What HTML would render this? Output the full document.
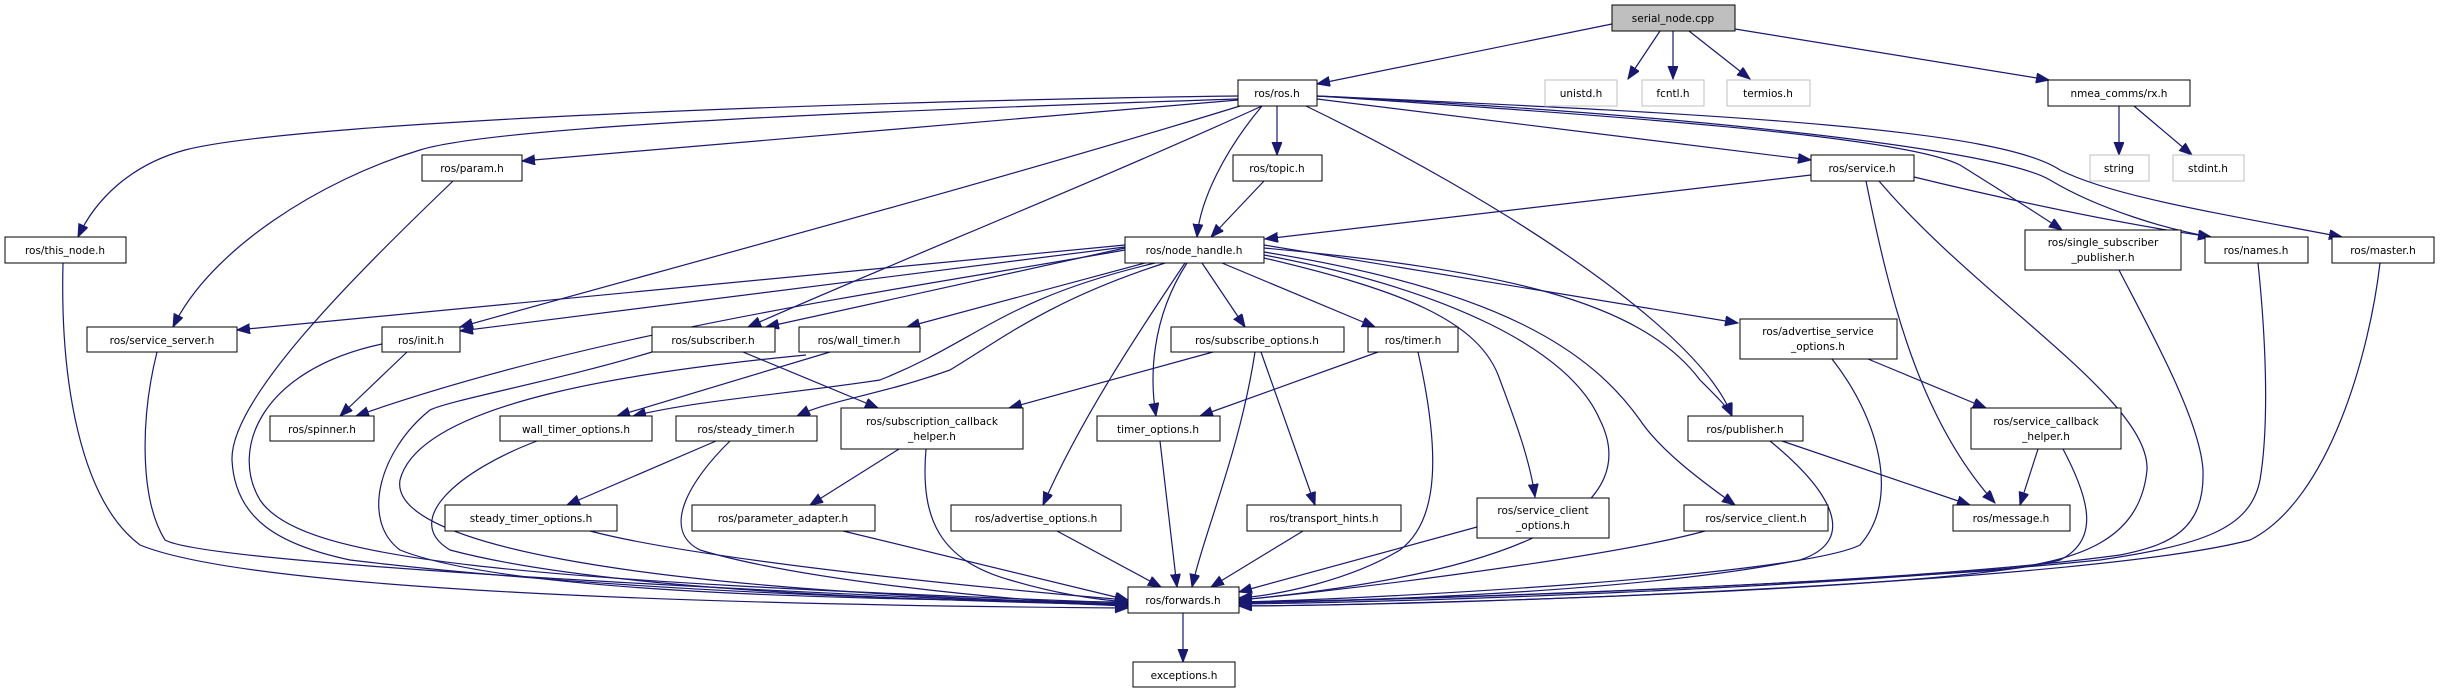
<!DOCTYPE html>
<html><head><meta charset="utf-8"><style>
html,body{margin:0;padding:0;background:#fff}
svg{display:block}
text{font-family:"DejaVu Sans","Liberation Sans",sans-serif;font-size:10.5px;fill:#000;text-anchor:middle}
.e{fill:none;stroke:#191970;stroke-width:1.2;marker-end:url(#a)}
.n{fill:#fff;stroke:#000;stroke-width:1}
.g{fill:#fff;stroke:#bfbfbf;stroke-width:1}
</style></head><body>
<svg width="2441" height="693" viewBox="0 0 2441 693" xmlns="http://www.w3.org/2000/svg">
<defs><marker id="a" markerUnits="userSpaceOnUse" markerWidth="14" markerHeight="12" refX="13" refY="5" orient="auto"><path d="M0,0 L13,5 L0,10 z" fill="#191970" stroke="#191970"/></marker></defs>
<path class="e" d="M1612,24 L1317,84"/>
<path class="e" d="M1660,31 L1628,79"/>
<path class="e" d="M1673,31 L1673,79"/>
<path class="e" d="M1689,31 L1750,79"/>
<path class="e" d="M1735,29 L2049,80"/>
<path class="e" d="M2119,106 L2119,155"/>
<path class="e" d="M2134,106 L2192,155"/>
<path class="e" d="M1238,96 C900,100 300,120 185,150 C130,165 95,200 78,237"/>
<path class="e" d="M1238,99 C900,110 500,125 420,150 C320,180 210,250 173,327"/>
<path class="e" d="M1238,100 L522,161"/>
<path class="e" d="M1240,106 C1000,180 700,260 460,327"/>
<path class="e" d="M1262,106 C1100,180 900,260 748,327"/>
<path class="e" d="M1262,106 C1225,150 1200,200 1197,237"/>
<path class="e" d="M1277,106 L1277,155"/>
<path class="e" d="M1306,106 C1500,200 1700,330 1732,416"/>
<path class="e" d="M1317,99 L1811,160"/>
<path class="e" d="M1317,96 C1600,115 1900,135 1960,165 C2000,190 2040,215 2062,230"/>
<path class="e" d="M1317,96 C1700,115 2000,150 2050,180 C2100,210 2170,230 2211,237"/>
<path class="e" d="M1317,96 C1750,115 2000,130 2060,170 C2110,195 2200,210 2342,237"/>
<path class="e" d="M1264,181 L1211,237"/>
<path class="e" d="M1811,175 L1265,239"/>
<path class="e" d="M1914,177 C2050,210 2150,228 2211,237"/>
<path class="e" d="M1866,181 C1890,300 1920,420 1995,503"/>
<path class="e" d="M1879,181 C1980,300 2150,400 2147,470 C2140,540 2080,560 2000,570 C1700,590 1400,600 1239,602"/>
<path class="e" d="M2258,263 C2265,330 2270,420 2260,480 C2250,530 2200,545 2100,560 C1800,590 1400,602 1239,604"/>
<path class="e" d="M2380,263 C2370,350 2330,500 2250,540 C2100,580 1500,605 1239,606"/>
<path class="e" d="M2119,270 C2150,330 2200,420 2203,470 C2205,530 2170,545 2120,555 C1900,585 1400,600 1239,603"/>
<path class="e" d="M63,263 C60,380 80,500 140,545 C250,590 700,605 1128,608"/>
<path class="e" d="M157,352 C140,420 140,500 165,540 C200,560 600,585 1128,606"/>
<path class="e" d="M453,181 C350,280 230,400 232,460 C235,520 280,545 350,560 C600,590 900,600 1128,604"/>
<path class="e" d="M382,344 C260,370 230,450 260,500 C300,560 500,580 1128,603"/>
<path class="e" d="M407,352 L340,416"/>
<path class="e" d="M1125,250 C900,290 600,330 356,416"/>
<path class="e" d="M652,352 C560,380 450,400 430,410 C380,450 360,520 400,550 C500,590 800,600 1128,602"/>
<path class="e" d="M743,352 L878,408"/>
<path class="e" d="M1125,248 L766,327"/>
<path class="e" d="M1125,245 L237,330"/>
<path class="e" d="M1125,247 L460,331"/>
<path class="e" d="M1145,263 L907,327"/>
<path class="e" d="M830,352 L617,416"/>
<path class="e" d="M1155,263 C1000,300 980,340 880,380 C780,395 700,400 633,416"/>
<path class="e" d="M806,355 C650,370 420,400 400,480 C390,540 600,590 1128,604"/>
<path class="e" d="M537,441 C460,470 400,520 450,550 C600,590 900,600 1128,605"/>
<path class="e" d="M716,441 L567,505"/>
<path class="e" d="M730,441 C690,480 660,530 700,550 C800,580 1000,600 1128,606"/>
<path class="e" d="M590,531 C700,560 1000,590 1128,600"/>
<path class="e" d="M1165,263 C1050,300 1000,340 950,370 C880,395 830,400 797,416"/>
<path class="e" d="M1213,352 L1009,408"/>
<path class="e" d="M899,449 L810,505"/>
<path class="e" d="M926,449 C920,520 940,560 1010,580 C1060,595 1100,600 1128,602"/>
<path class="e" d="M843,531 L1128,600"/>
<path class="e" d="M1185,263 C1140,330 1080,420 1043,505"/>
<path class="e" d="M1057,531 L1161,587"/>
<path class="e" d="M1187,263 C1150,320 1150,380 1156,416"/>
<path class="e" d="M1160,441 L1177,587"/>
<path class="e" d="M1202,263 L1245,327"/>
<path class="e" d="M1255,352 C1240,450 1205,530 1192,587"/>
<path class="e" d="M1261,352 L1315,505"/>
<path class="e" d="M1303,531 L1211,587"/>
<path class="e" d="M1222,263 L1375,327"/>
<path class="e" d="M1378,352 L1200,416"/>
<path class="e" d="M1418,352 C1440,450 1440,520 1400,550 C1350,580 1280,595 1239,598"/>
<path class="e" d="M1264,258 C1400,290 1480,320 1500,380 C1515,420 1530,460 1535,497"/>
<path class="e" d="M1477,527 L1239,592"/>
<path class="e" d="M1264,255 C1450,290 1570,350 1600,420 C1640,500 1550,570 1239,600"/>
<path class="e" d="M1264,252 C1500,290 1590,350 1640,420 C1660,450 1700,480 1735,505"/>
<path class="e" d="M1705,531 C1600,560 1300,595 1239,600"/>
<path class="e" d="M1264,248 C1500,270 1640,300 1700,380 C1720,400 1728,408 1732,416"/>
<path class="e" d="M1264,245 L1738,323"/>
<path class="e" d="M1868,359 L1986,408"/>
<path class="e" d="M1832,359 C1880,420 1900,500 1860,545 C1800,575 1400,598 1239,602"/>
<path class="e" d="M1782,441 L1970,505"/>
<path class="e" d="M1770,441 C1830,490 1860,540 1800,560 C1650,590 1400,600 1239,603"/>
<path class="e" d="M2038,449 L2020,505"/>
<path class="e" d="M2063,449 C2090,500 2100,540 2060,560 C1950,590 1400,605 1239,606"/>
<path class="e" d="M1183,613 L1183,662"/>
<rect x="1612" y="5" width="123" height="26" fill="#bfbfbf" stroke="#000"/><text x="1673" y="22">serial_node.cpp</text>
<rect class="n" x="1238" y="80" width="79" height="26"/><text x="1277" y="97">ros/ros.h</text>
<rect class="g" x="1545" y="80" width="72" height="26"/><text x="1581" y="97">unistd.h</text>
<rect class="g" x="1642" y="80" width="62" height="26"/><text x="1673" y="97">fcntl.h</text>
<rect class="g" x="1727" y="80" width="83" height="26"/><text x="1768" y="97">termios.h</text>
<rect class="n" x="2048" y="80" width="142" height="26"/><text x="2119" y="97">nmea_comms/rx.h</text>
<rect class="n" x="422" y="155" width="100" height="26"/><text x="472" y="172">ros/param.h</text>
<rect class="n" x="1233" y="155" width="89" height="26"/><text x="1277" y="172">ros/topic.h</text>
<rect class="n" x="1811" y="155" width="103" height="26"/><text x="1862" y="172">ros/service.h</text>
<rect class="g" x="2090" y="155" width="59" height="26"/><text x="2119" y="172">string</text>
<rect class="g" x="2173" y="155" width="71" height="26"/><text x="2208" y="172">stdint.h</text>
<rect class="n" x="5" y="237" width="121" height="26"/><text x="65" y="254">ros/this_node.h</text>
<rect class="n" x="1125" y="237" width="139" height="26"/><text x="1194" y="254">ros/node_handle.h</text>
<rect class="n" x="2025" y="230" width="156" height="40"/><text x="2103" y="246">ros/single_subscriber</text><text x="2103" y="261">_publisher.h</text>
<rect class="n" x="2205" y="237" width="103" height="26"/><text x="2256" y="254">ros/names.h</text>
<rect class="n" x="2332" y="237" width="102" height="26"/><text x="2383" y="254">ros/master.h</text>
<rect class="n" x="87" y="327" width="150" height="25"/><text x="162" y="344">ros/service_server.h</text>
<rect class="n" x="382" y="327" width="78" height="25"/><text x="421" y="344">ros/init.h</text>
<rect class="n" x="652" y="327" width="123" height="25"/><text x="713" y="344">ros/subscriber.h</text>
<rect class="n" x="799" y="327" width="121" height="25"/><text x="859" y="344">ros/wall_timer.h</text>
<rect class="n" x="1171" y="327" width="173" height="25"/><text x="1257" y="344">ros/subscribe_options.h</text>
<rect class="n" x="1368" y="327" width="90" height="25"/><text x="1413" y="344">ros/timer.h</text>
<rect class="n" x="1740" y="319" width="157" height="40"/><text x="1818" y="335">ros/advertise_service</text><text x="1818" y="350">_options.h</text>
<rect class="n" x="270" y="416" width="104" height="25"/><text x="322" y="433">ros/spinner.h</text>
<rect class="n" x="500" y="416" width="152" height="25"/><text x="576" y="433">wall_timer_options.h</text>
<rect class="n" x="676" y="416" width="141" height="25"/><text x="746" y="433">ros/steady_timer.h</text>
<rect class="n" x="841" y="408" width="182" height="41"/><text x="932" y="425">ros/subscription_callback</text><text x="932" y="440">_helper.h</text>
<rect class="n" x="1097" y="416" width="123" height="25"/><text x="1158" y="433">timer_options.h</text>
<rect class="n" x="1688" y="416" width="115" height="25"/><text x="1745" y="433">ros/publisher.h</text>
<rect class="n" x="1971" y="408" width="150" height="41"/><text x="2046" y="425">ros/service_callback</text><text x="2046" y="440">_helper.h</text>
<rect class="n" x="445" y="505" width="172" height="26"/><text x="531" y="522">steady_timer_options.h</text>
<rect class="n" x="692" y="505" width="183" height="26"/><text x="783" y="522">ros/parameter_adapter.h</text>
<rect class="n" x="951" y="505" width="170" height="26"/><text x="1036" y="522">ros/advertise_options.h</text>
<rect class="n" x="1247" y="505" width="154" height="26"/><text x="1324" y="522">ros/transport_hints.h</text>
<rect class="n" x="1477" y="498" width="132" height="40"/><text x="1543" y="514">ros/service_client</text><text x="1543" y="529">_options.h</text>
<rect class="n" x="1684" y="505" width="144" height="26"/><text x="1756" y="522">ros/service_client.h</text>
<rect class="n" x="1953" y="505" width="117" height="26"/><text x="2011" y="522">ros/message.h</text>
<rect class="n" x="1128" y="587" width="111" height="26"/><text x="1183" y="604">ros/forwards.h</text>
<rect class="n" x="1133" y="662" width="102" height="25"/><text x="1184" y="679">exceptions.h</text>
</svg>
</body></html>
